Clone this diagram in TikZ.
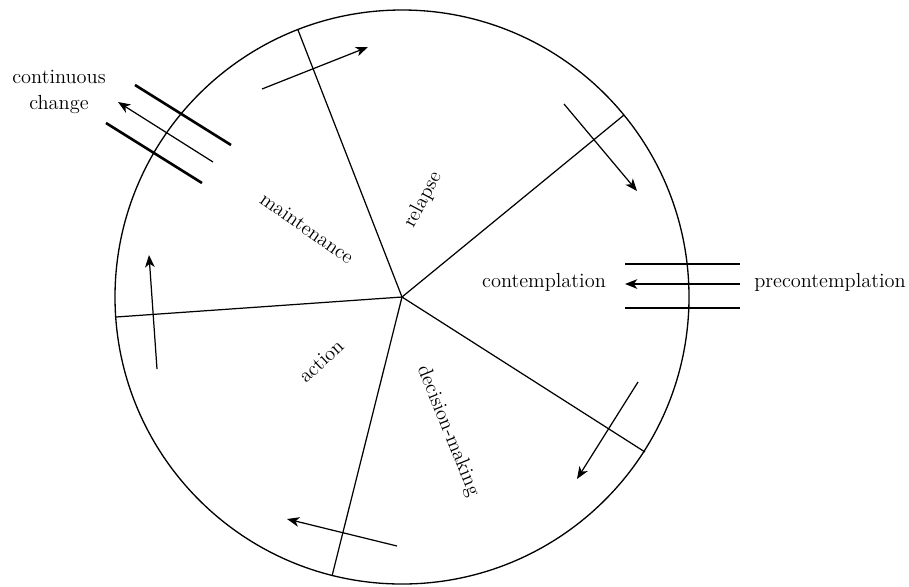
\documentclass[tikz,border=0pt]{standalone}
\usepackage{tikz}
\usetikzlibrary{arrows.meta}

\begin{document}
\begin{tikzpicture}[
    x=0.02cm, y=-0.02cm,
    wheel/.style={line width=0.75pt},
    spoke/.style={line width=0.7pt},
    arrow/.style={-{Stealth[length=7pt, width=5.5pt, inset=2pt]}, line width=0.7pt},
    bar/.style={line width=1.5pt},
    stage/.style={font=\fontsize{11.6}{14}\selectfont, inner sep=1pt},
    lbl/.style={font=\fontsize{11.6}{15}\selectfont, align=center, inner sep=1pt},
]
\useasboundingbox (0,0) rectangle (909,586);

% Wheel
\coordinate (hub) at (402,297);
\draw[wheel] (hub) circle[radius=287];

\coordinate (s1) at (624,115);
\coordinate (s2) at (298,30);
\coordinate (s3) at (116,317);
\coordinate (s4) at (332,576);
\coordinate (s5) at (645,452);
\draw[spoke] (hub) -- (s1);
\draw[spoke] (hub) -- (s2);
\draw[spoke] (hub) -- (s3);
\draw[spoke] (hub) -- (s4);
\draw[spoke] (hub) -- (s5);

% Stages
\node[stage, rotate=62] (relapse) at (423,200) {relapse};
\node[stage, rotate=-35] (maintenance) at (307,228) {maintenance};
\node[stage, rotate=43] (action) at (321,361) {action};
\node[stage, rotate=-68] (decision) at (448,431) {decision-making};
\node[stage] (contemplation) at (544,282) {contemplation};

% Direction of the cycle
\coordinate (a1s) at (262,89);  \coordinate (a1e) at (368,47);
\coordinate (a2s) at (564,104); \coordinate (a2e) at (637,191);
\coordinate (a3s) at (638,382); \coordinate (a3e) at (577,479);
\coordinate (a4s) at (397,546); \coordinate (a4e) at (287,519);
\coordinate (a5s) at (157,369); \coordinate (a5e) at (149,255);
\draw[arrow] (a1s) -- (a1e);
\draw[arrow] (a2s) -- (a2e);
\draw[arrow] (a3s) -- (a3e);
\draw[arrow] (a4s) -- (a4e);
\draw[arrow] (a5s) -- (a5e);

% Entry
\node[lbl] (pre) at (830,282) {precontemplation};
\coordinate (in1a) at (625,264); \coordinate (in1b) at (740,264);
\coordinate (in2a) at (625,284); \coordinate (in2b) at (740,284);
\coordinate (in3a) at (625,308); \coordinate (in3b) at (740,308);
\draw[bar] (in1a) -- (in1b);
\draw[arrow] (in2b) -- (in2a);
\draw[bar] (in3a) -- (in3b);

% Exit
\node[lbl] (exit) at (59,92) {continuous\\change};
\coordinate (out1a) at (135,85);  \coordinate (out1b) at (231,145);
\coordinate (out2a) at (213,162); \coordinate (out2b) at (118,102);
\coordinate (out3a) at (106,123); \coordinate (out3b) at (202,183);
\draw[bar] (out1a) -- (out1b);
\draw[arrow] (out2a) -- (out2b);
\draw[bar] (out3a) -- (out3b);

\end{tikzpicture}
\end{document}
